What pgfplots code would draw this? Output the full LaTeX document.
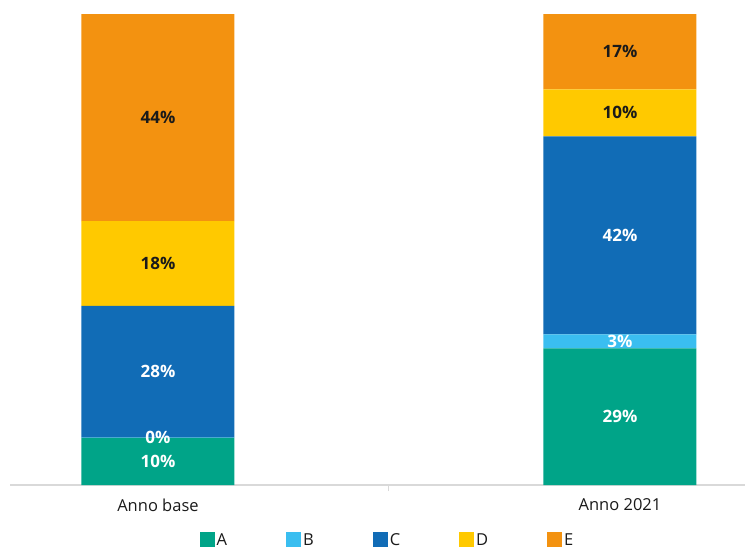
\documentclass[border=0pt]{standalone}
\usepackage{pgfplots}
\pgfplotsset{compat=1.18}
\usepackage{fontspec}
\setmainfont{Open Sans}

\definecolor{cA}{RGB}{0,164,136}
\definecolor{cB}{RGB}{58,190,240}
\definecolor{cC}{RGB}{17,108,182}
\definecolor{cD}{RGB}{255,201,0}
\definecolor{cE}{RGB}{243,146,16}
\definecolor{axisgrey}{RGB}{217,217,217}
\definecolor{txt}{RGB}{26,26,26}

\begin{document}
\begin{tikzpicture}
\useasboundingbox (-10pt,-65pt) rectangle (737pt,485pt);
\begin{axis}[
    at={(0pt,0pt)}, anchor=south west,
    scale only axis,
    width=735pt, height=471pt,
    ybar stacked,
    bar width=153pt,
    xmin=-0.3203, xmax=1.2706,
    ymin=0, ymax=100,
    axis x line*=bottom,
    axis y line=none,
    x axis line style={draw=axisgrey, line width=1.4pt},
    xtick={0,1},
    xticklabels={Anno base, Anno 2021},
    major tick length=0pt,
    extra x ticks={0.5},
    extra x tick labels={},
    extra x tick style={major tick length=6pt, tick align=outside,
        tick style={draw=axisgrey, line width=1pt}},
    xticklabel style={font=\fontsize{16.5pt}{19pt}\selectfont, text=txt, yshift=-10pt},
    ytick=\empty,
    point meta=explicit symbolic,
    nodes near coords,
    every node near coord/.append style={anchor=center,
        font=\fontsize{17pt}{20pt}\selectfont\bfseries},
    legend columns=5,
    legend style={at={(0.5136,-0.116)}, anchor=center, draw=none, fill=none,
        font=\fontsize{16.5pt}{19pt}\selectfont, text=txt,
        nodes={inner ysep=0pt},
        /tikz/every even column/.append style={column sep=57pt}},
    legend image code/.code={\fill[#1] (0pt,-7pt) rectangle (15pt,8pt);},
]
\addplot[fill=cA, draw=none, every node near coord/.append style={text=white}]
    coordinates {(0,10) [10\%] (1,29) [29\%]};
\addplot[fill=cB, draw=none, every node near coord/.append style={text=white}]
    coordinates {(0,0.05) [0\%] (1,3) [3\%]};
\addplot[fill=cC, draw=none, every node near coord/.append style={text=white}]
    coordinates {(0,28) [28\%] (1,42) [42\%]};
\addplot[fill=cD, draw=none, every node near coord/.append style={text=txt}]
    coordinates {(0,18) [18\%] (1,10) [10\%]};
\addplot[fill=cE, draw=none, every node near coord/.append style={text=txt}]
    coordinates {(0,43.9) [44\%] (1,16) [17\%]};
\legend{A, B, C, D, E}
\end{axis}
\end{tikzpicture}
\end{document}
